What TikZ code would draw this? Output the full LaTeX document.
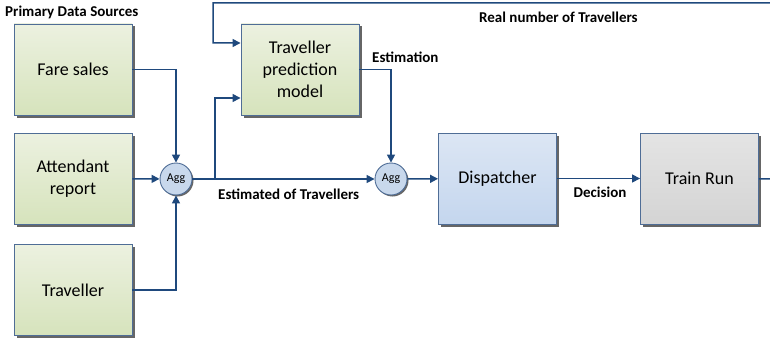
\documentclass[tikz,border=0pt]{standalone}
\usepackage{fontspec}
\setmainfont{Carlito}
\usetikzlibrary{arrows.meta,shadows,calc}

\definecolor{linkblue}{RGB}{31,73,125}
\definecolor{edgeblue}{RGB}{79,109,150}
\definecolor{greentop}{RGB}{236,241,224}
\definecolor{greenbot}{RGB}{214,227,188}
\definecolor{bluetop}{RGB}{220,230,244}
\definecolor{bluebot}{RGB}{196,214,238}
\definecolor{greytop}{RGB}{228,228,228}
\definecolor{greybot}{RGB}{212,212,212}
\definecolor{aggblue}{RGB}{200,216,236}

\begin{document}
\begin{tikzpicture}[x=1pt,y=-1pt,
    block/.style={draw=edgeblue,line width=0.9pt,minimum width=118pt,minimum height=91pt,
      inner sep=0pt,align=center,font=\fontsize{18}{22}\selectfont,
      drop shadow={shadow xshift=2.5pt,shadow yshift=-2.5pt,fill=black!60,opacity=1}},
    source/.style={block,top color=greentop,bottom color=greenbot},
    agg/.style={circle,draw=edgeblue,line width=0.9pt,fill=aggblue,minimum size=32pt,inner sep=0pt,
      font=\fontsize{12}{12}\selectfont,
      drop shadow={shadow xshift=1.5pt,shadow yshift=-1.5pt,fill=black!60,opacity=1}},
    flow/.style={draw=linkblue,line width=1.5pt,-{Triangle[length=8pt,width=8pt]}},
    tag/.style={font=\bfseries\fontsize{15}{17}\selectfont,inner sep=0pt}]

    \useasboundingbox (0,0) rectangle (770,337);
    \clip (0,0) rectangle (770,337);

    % Primary data sources
    \node[tag,anchor=west] (srctag) at (5,12) {Primary Data Sources};
    \node[source] (fare) at (73,69.5) {Fare sales};
    \node[source] (attend) at (73,178.5) {Attendant\\report};
    \node[source] (trav) at (73,290) {Traveller};

    % Aggregation points
    \node[agg] (agg1) at (176,179) {Agg};
    \node[agg] (agg2) at (391,179) {Agg};

    % Model, dispatcher and train run
    \node[source] (model) at (300,69.5) {Traveller\\prediction\\model};
    \node[block,top color=bluetop,bottom color=bluebot] (dispatch) at (497.5,178.5) {Dispatcher};
    \node[block,top color=greytop,bottom color=greybot] (train) at (699.5,178.5) {Train Run};

    % Helper points
    \coordinate (split) at (215,179);
    \coordinate (loopR) at (790,179);
    \coordinate (loopT) at (213,3);

    % Sources into the first Agg
    \draw[flow] (fare) -| (agg1);
    \draw[flow] (attend) -- (agg1);
    \draw[flow] (trav) -| (agg1);

    % Estimates
    \draw[flow] (agg1) -- (agg2);
    \draw[flow] (split) |- ($(model.west)+(0,28.5)$);
    \draw[flow] (model) -| (agg2);
    \node[tag,anchor=west] (esttag) at (218,194) {Estimated of Travellers};
    \node[tag,anchor=west] (estimtag) at (372,57) {Estimation};

    % Decision chain
    \draw[flow] (agg2) -- (dispatch);
    \draw[flow] (dispatch) -- (train);
    \node[tag] (dectag) at (600,192) {Decision};

    % Feedback of the real number
    \draw[flow] (train) -- (loopR) |- (loopT) |- ($(model.west)+(0,-26.5)$);
    \node[tag,anchor=west] (realtag) at (479,17) {Real number of Travellers};
\end{tikzpicture}
\end{document}
